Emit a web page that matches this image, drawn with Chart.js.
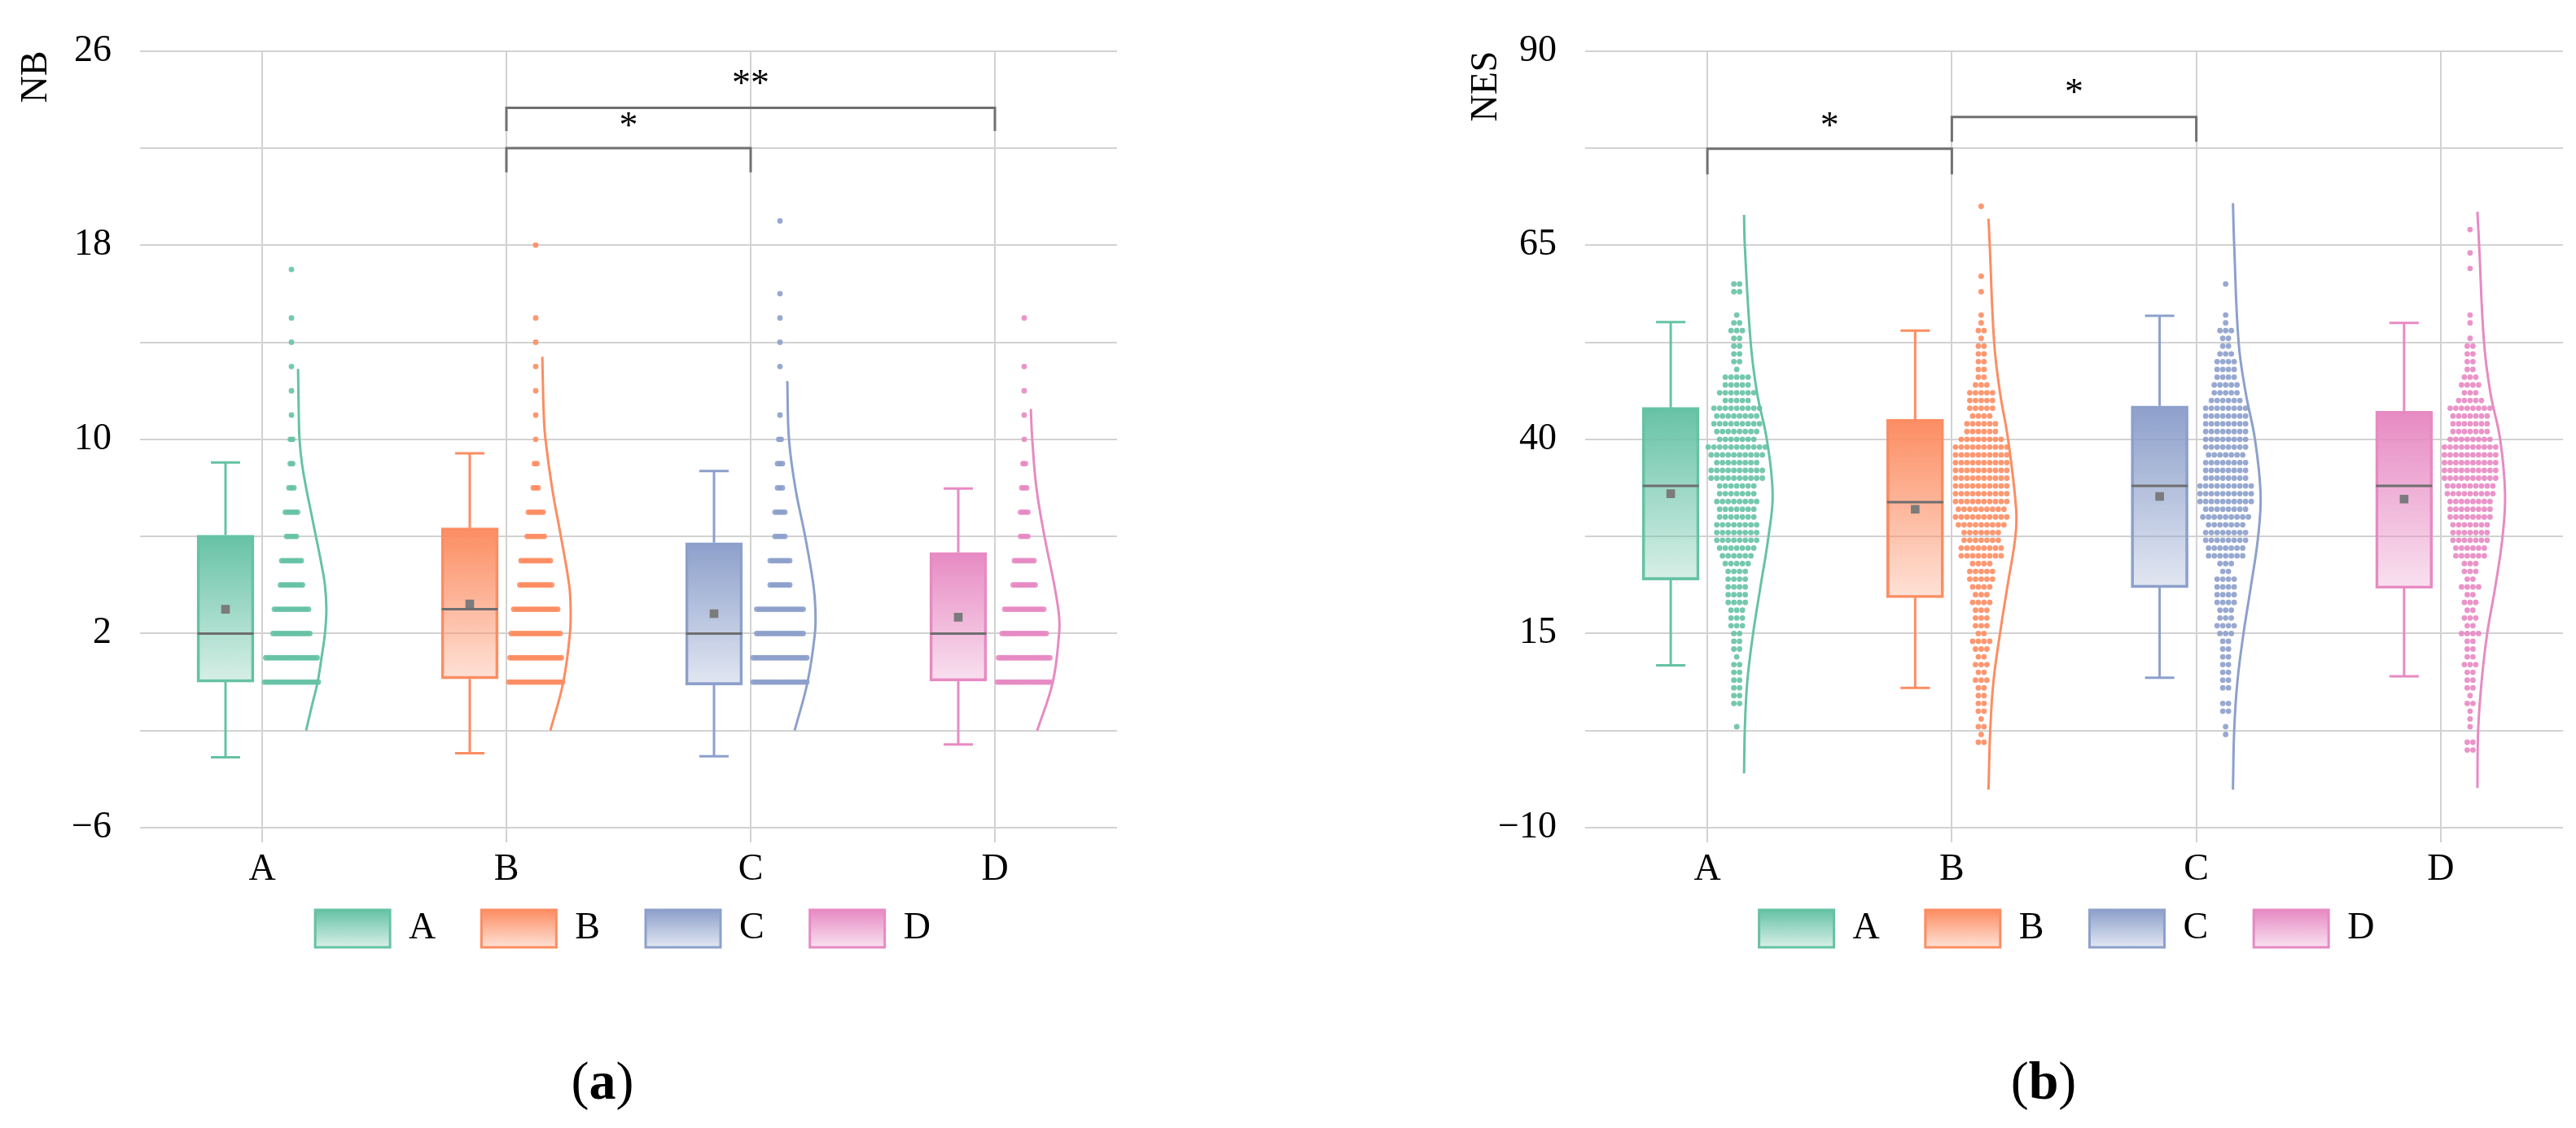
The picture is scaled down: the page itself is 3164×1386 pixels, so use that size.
<!DOCTYPE html>
<html>
<head>
<meta charset="utf-8">
<script src="https://cdn.jsdelivr.net/npm/chart.js@4.4.1/dist/chart.umd.min.js"></script>
<style>
html,body{margin:0;padding:0;background:#fff;width:3164px;height:1386px;overflow:hidden;position:relative;}
.wrap{position:absolute;top:0;}
#w1{left:0;width:1530px;height:1209px;}
#w2{left:1780px;width:1517px;height:1209px;}
.cap{position:absolute;top:1288px;font-family:'Liberation Serif',serif;font-size:66px;line-height:80px;color:#000;transform:translateX(-50%);white-space:nowrap;}
</style>
</head>
<body>
<div class="wrap" id="w1"><canvas id="c1" width="1530" height="1209"></canvas></div>
<div class="wrap" id="w2"><canvas id="c2" width="1517" height="1209"></canvas></div>
<div class="cap" style="left:740px">(<b>a</b>)</div>
<div class="cap" style="left:2510px">(<b>b</b>)</div>
<script>
// ---------- shared ----------
const categories = ['A', 'B', 'C', 'D'];
const seriesColors = ['#66c2a5', '#fc8d62', '#8da0cb', '#e78ac3'];

// ---------- (a) NB ----------
const nbMin    = [-3.1, -2.93, -3.06, -2.57];
const nbQ1     = [0.0, 0.13, -0.12, 0.04];
const nbMedian = [2.0, 3.0, 2.0, 2.0];
const nbQ3     = [6.05, 6.35, 5.74, 5.34];
const nbMax    = [9.05, 9.42, 8.69, 7.97];
const nbMean   = [3.0, 3.22, 2.82, 2.67];
const nbTickLabels = [-6, 2, 10, 18, 26];
const nbRowValues = [0,1,2,3,4,5,6,7,8,9,10,11,12,13,14,15,16,17,18,19];
const nbCountsA = [23,22,16,15,10,9,5,6,3,2,2,1,1,1,1,1,0,1,0,0];
const nbCountsB = [23,22,21,19,14,13,8,7,3,2,1,1,1,1,1,1,0,0,1,0];
const nbCountsC = [23,23,20,20,9,9,5,5,3,3,2,1,0,1,1,1,1,0,0,1];
const nbCountsD = [23,22,19,17,10,9,4,4,3,2,1,1,1,1,0,1,0,0,0,0];
const nbCurveYA = [-2,-1,0,1,2,3,4,5,6,7,8,9,10,11,12.9];
const nbCurveXA = [0.180,0.203,0.227,0.243,0.257,0.263,0.257,0.240,0.220,0.200,0.180,0.163,0.153,0.150,0.147];
const nbCurveYB = [-2,0,2,3,4,6,8,10,11,13.4];
const nbCurveXB = [0.180,0.233,0.260,0.263,0.257,0.223,0.187,0.160,0.153,0.147];
const nbCurveYC = [-2,0,2,3,4,6,8,10,12.4];
const nbCurveXC = [0.180,0.233,0.263,0.265,0.257,0.223,0.183,0.157,0.150];
const nbCurveYD = [-2,0,2,2.7,4,6,8,10,11.25];
const nbCurveXD = [0.173,0.237,0.263,0.263,0.243,0.203,0.170,0.153,0.147];
const nbSigFrom  = [1, 1];
const nbSigTo    = [2, 3];
const nbSigY     = [22, 23.66];
const nbSigTip   = [21, 22.7];
const nbSigText  = ['*', '**'];
const nbSigTextY = [23.1, 24.85];

// ---------- (b) NES ----------
const nesMin    = [10.9, 8.0, 9.3, 9.5];
const nesQ1     = [21.9, 19.6, 20.9, 20.8];
const nesMedian = [34.0, 31.9, 34.0, 34.0];
const nesQ3     = [44.1, 42.6, 44.3, 43.6];
const nesMax    = [55.1, 54.0, 55.9, 55.0];
const nesMean   = [33.0, 31.0, 32.65, 32.3];
const nesTickLabels = [-10, 15, 40, 65, 90];
const nesRowValues = [0,1,2,3,4,5,6,7,8,9,10,11,12,13,14,15,16,17,18,19,20,21,22,23,24,25,26,27,28,29,30,31,32,33,34,35,36,37,38,39,40,41,42,43,44,45,46,47,48,49,50,51,52,53,54,55,56,57,58,59,60,61,62,63,64,65,66,67,68,69,70];
const nesCountsA = [0,0,0,1,0,0,2,2,2,2, 2,2,1,2,2,2,3,3,3,4, 4,4,4,4,5,6,7,8,8,8, 7,7,8,7,7,10,10,8,10,11, 7,8,9,8,9,5,7,5,5,1, 2,2,2,2,3,2,1,0,0,2, 2,0,0,0,0,0,0,0,0,0,0];
const nesCountsB = [0,2,1,2,1,2,2,2,2,3, 2,3,2,3,4,2,3,3,3,4, 3,4,5,5,4,8,8,7,7,9, 10,9,10,10,10,10,10,10,10,10, 8,6,6,4,5,5,5,3,2,2, 2,2,2,1,2,1,1,0,0,1, 0,1,0,0,0,0,0,0,0,0,1];
const nesCountsC = [0,0,1,1,0,2,2,0,2,2, 2,2,2,2,2,3,4,3,3,4, 4,4,4,2,3,7,7,8,8,7, 9,8,10,10,10,8,8,8,7,8, 8,8,8,8,8,6,5,5,4,4, 4,3,2,2,3,1,1,0,0,0, 1,0,0,0,0,0,0,0,0,0,0];
const nesCountsD = [2,2,0,1,1,1,2,1,2,2, 2,3,2,2,2,4,2,3,2,3, 2,4,2,3,3,6,6,7,7,7, 8,8,8,9,9,10,10,10,10,10, 8,7,7,7,8,5,3,4,3,2, 2,2,2,1,0,1,1,0,0,0, 0,0,1,0,1,0,0,1,0,0,0];
const nesCurveYA = [-3,2.5,8.75,15,21,27.5,33,40,46,52.5,65,68.9];
const nesCurveXA = [0.150,0.153,0.163,0.187,0.217,0.250,0.267,0.243,0.203,0.177,0.153,0.150];
const nesCurveYB = [-5.1,2.5,8.75,15,21,27.5,31,40,46,52.5,65,68.4];
const nesCurveXB = [0.150,0.157,0.170,0.197,0.227,0.260,0.263,0.230,0.197,0.173,0.155,0.150];
const nesCurveYC = [-5.1,2.5,8.75,15,21,27.5,33,40,46,52.5,65,70.4];
const nesCurveXC = [0.150,0.155,0.168,0.193,0.223,0.253,0.263,0.240,0.202,0.173,0.155,0.150];
const nesCurveYD = [-4.9,2.5,8.75,15,21,27.5,33,40,46,52.5,65,69.3];
const nesCurveXD = [0.150,0.153,0.167,0.190,0.223,0.253,0.263,0.243,0.203,0.177,0.157,0.150];
const nesSigFrom  = [0, 1];
const nesSigTo    = [1, 2];
const nesSigY     = [77.4, 81.5];
const nesSigTip   = [74.1, 78.3];
const nesSigText  = ['*', '*'];
const nesSigTextY = [81.0, 85.2];

// ---------- styling ----------
const FONT = 'Liberation Serif';
const GRID = '#d2d2d2';
const MEDIAN_COLOR = '#6e6e6e';
const MEAN_COLOR = '#7b7b7b';
const BRACKET_COLOR = '#707070';
const BOX_OFFSET = -0.15;
const BOX_HALF = 0.115;
const CAP_HALF = 0.06;
const DOT_OFFSET = 0.12;
const LEGEND_PAD = 56;
const LEGEND_SHIFT = 35;

Chart.defaults.font.family = FONT;

function rgba(hex, a) {
  const n = parseInt(hex.slice(1), 16);
  return 'rgba(' + (n >> 16) + ',' + ((n >> 8) & 255) + ',' + (n & 255) + ',' + a + ')';
}
function fmt(v) { return v < 0 ? '\u2212' + Math.abs(v) : String(v); }

// moves the legend up into the empty band under the axis labels
const legendLiftPlugin = {
  id: 'legendLift',
  afterLayout(chart) {
    const lg = chart.legend;
    if (lg) { lg.top -= LEGEND_SHIFT; lg.bottom -= LEGEND_SHIFT; }
  }
};

function buildChart(canvasId, d) {
  const datasets = [];
  categories.forEach((cat, i) => {
    const col = seriesColors[i];
    const bx = i + BOX_OFFSET;
    datasets.push({
      type: 'bar', label: cat,
      data: [{ x: bx, y: [d.q1[i], d.q3[i]] }],
      backgroundColor: (ctx) => {
        const ys = ctx.chart.scales.y;
        const r = ctx.raw;
        if (!ys || !r || !Array.isArray(r.y)) return rgba(col, 0.6);
        const t = ys.getPixelForValue(Math.max(r.y[0], r.y[1]));
        const b = ys.getPixelForValue(Math.min(r.y[0], r.y[1]));
        if (!isFinite(t) || !isFinite(b) || t === b) return rgba(col, 0.6);
        const g = ctx.chart.ctx.createLinearGradient(0, t, 0, b);
        g.addColorStop(0, rgba(col, 1));
        g.addColorStop(1, rgba(col, 0.26));
        return g;
      },
      borderColor: col, borderWidth: 3, borderSkipped: false,
      barThickness: 70, grouped: false, order: 5
    });
    datasets.push({
      type: 'scatter', label: cat + ' whiskers', showLine: true,
      data: [
        { x: bx - CAP_HALF, y: d.min[i] }, { x: bx + CAP_HALF, y: d.min[i] }, { x: bx, y: null },
        { x: bx, y: d.min[i] }, { x: bx, y: d.q1[i] }, { x: bx, y: null },
        { x: bx, y: d.q3[i] }, { x: bx, y: d.max[i] }, { x: bx, y: null },
        { x: bx - CAP_HALF, y: d.max[i] }, { x: bx + CAP_HALF, y: d.max[i] }
      ],
      borderColor: col, borderWidth: 3, pointRadius: 0, spanGaps: false, order: 6
    });
    datasets.push({
      type: 'scatter', label: cat + ' median', showLine: true,
      data: [{ x: bx - BOX_HALF, y: d.median[i] }, { x: bx + BOX_HALF, y: d.median[i] }],
      borderColor: MEDIAN_COLOR, borderWidth: 3, pointRadius: 0, order: 2
    });
    const dots = [];
    d.rows.forEach((v, k) => {
      const n = d.counts[i][k];
      for (let j = 0; j < n; j++) dots.push({ x: i + DOT_OFFSET + (j - (n - 1) / 2) * d.dotStep, y: v });
    });
    datasets.push({
      type: 'scatter', label: cat + ' points', data: dots,
      backgroundColor: rgba(col, 0.9), borderWidth: 0, pointRadius: 3.4, order: 4
    });
    datasets.push({
      type: 'scatter', label: cat + ' distribution', showLine: true,
      data: d.curveY[i].map((y, k) => ({ x: i + d.curveX[i][k], y: y })),
      borderColor: col, borderWidth: 3, pointRadius: 0, tension: 0.4, order: 4
    });
  });
  datasets.push({
    type: 'scatter', label: 'mean',
    data: categories.map((c, i) => ({ x: i + BOX_OFFSET, y: d.mean[i] })),
    pointStyle: 'rect', pointRadius: 7.5, backgroundColor: MEAN_COLOR, borderWidth: 0, order: 1
  });

  const bracketPlugin = {
    id: 'sigBrackets',
    afterDatasetsDraw(chart) {
      const { ctx } = chart;
      const xs = chart.scales.x, ys = chart.scales.y;
      ctx.save();
      ctx.strokeStyle = BRACKET_COLOR;
      ctx.lineWidth = 3;
      ctx.fillStyle = '#000';
      ctx.font = '46px "' + FONT + '"';
      ctx.textAlign = 'center';
      ctx.textBaseline = 'middle';
      d.sigFrom.forEach((f, k) => {
        const x1 = xs.getPixelForValue(f), x2 = xs.getPixelForValue(d.sigTo[k]);
        const yl = ys.getPixelForValue(d.sigY[k]), yt = ys.getPixelForValue(d.sigTip[k]);
        ctx.beginPath();
        ctx.moveTo(x1, yt); ctx.lineTo(x1, yl); ctx.lineTo(x2, yl); ctx.lineTo(x2, yt);
        ctx.stroke();
        ctx.fillText(d.sigText[k], (x1 + x2) / 2, ys.getPixelForValue(d.sigTextY[k]) + 8);
      });
      ctx.restore();
    }
  };

  return new Chart(document.getElementById(canvasId), {
    type: 'scatter',
    data: { datasets: datasets },
    plugins: [bracketPlugin, legendLiftPlugin],
    options: {
      responsive: false,
      devicePixelRatio: 1,
      animation: false,
      events: [],
      layout: { padding: { top: 55, left: 0, right: 0, bottom: 0 } },
      plugins: {
        tooltip: { enabled: false },
        legend: {
          display: true, position: 'bottom', align: 'center',
          labels: {
            boxWidth: 92, boxHeight: 46, padding: LEGEND_PAD, color: '#000',
            font: { family: FONT, size: 46 },
            generateLabels: (chart) => {
              const lg = chart.legend;
              const y0 = (lg && isFinite(lg.top) ? lg.top : 1062) + LEGEND_PAD;
              return categories.map((c, i) => {
                const g = chart.ctx.createLinearGradient(0, y0, 0, y0 + 46);
                g.addColorStop(0, rgba(seriesColors[i], 1));
                g.addColorStop(1, rgba(seriesColors[i], 0.26));
                return { text: c, fillStyle: g, strokeStyle: seriesColors[i], lineWidth: 3,
                         hidden: false, datasetIndex: i * 5, fontColor: '#000' };
              });
            }
          }
        }
      },
      scales: {
        x: {
          type: 'linear', min: -0.5, max: 3.5, offset: false,
          afterBuildTicks: (ax) => { ax.ticks = categories.map((c, i) => ({ value: i })); },
          afterFit: (s) => { s.height = 80; },
          ticks: {
            callback: (v) => categories[v] !== undefined ? categories[v] : '',
            font: { family: FONT, size: 46 }, color: '#000', padding: 6,
            autoSkip: false, maxRotation: 0
          },
          grid: { offset: false, color: GRID, lineWidth: 2, drawTicks: true, tickLength: 18, tickColor: GRID, tickWidth: 2 },
          border: { display: false }
        },
        y: {
          type: 'linear', position: 'left', min: d.yMin, max: d.yMax,
          afterFit: (s) => { s.width = d.yAxisWidth; },
          ticks: {
            stepSize: d.yStep,
            callback: (v) => d.tickLabels.includes(v) ? fmt(v) : '',
            font: { family: FONT, size: 46 }, color: '#000', padding: 35
          },
          grid: { color: GRID, lineWidth: 2, drawTicks: false },
          border: { display: false },
          title: { display: true, text: d.title, align: 'end', color: '#000',
                   font: { family: FONT, size: 46 }, padding: { top: d.titlePad, bottom: 0 } }
        },
        yR: {
          type: 'linear', position: 'right', display: true,
          afterFit: (s) => { s.width = d.rightWidth; },
          ticks: { display: false },
          grid: { display: false },
          border: { display: false }
        }
      }
    }
  });
}

buildChart('c1', {
  title: 'NB', yMin: -6, yMax: 26, yStep: 4, tickLabels: nbTickLabels,
  yAxisWidth: 172, rightWidth: 158, titlePad: 17,
  min: nbMin, q1: nbQ1, median: nbMedian, q3: nbQ3, max: nbMax, mean: nbMean,
  rows: nbRowValues, counts: [nbCountsA, nbCountsB, nbCountsC, nbCountsD], dotStep: 0.01,
  curveY: [nbCurveYA, nbCurveYB, nbCurveYC, nbCurveYD],
  curveX: [nbCurveXA, nbCurveXB, nbCurveXC, nbCurveXD],
  sigFrom: nbSigFrom, sigTo: nbSigTo, sigY: nbSigY, sigTip: nbSigTip, sigText: nbSigText, sigTextY: nbSigTextY
});

buildChart('c2', {
  title: 'NES', yMin: -10, yMax: 90, yStep: 12.5, tickLabels: nesTickLabels,
  yAxisWidth: 167, rightWidth: 149, titlePad: 18,
  min: nesMin, q1: nesQ1, median: nesMedian, q3: nesQ3, max: nesMax, mean: nesMean,
  rows: nesRowValues, counts: [nesCountsA, nesCountsB, nesCountsC, nesCountsD], dotStep: 0.0233,
  curveY: [nesCurveYA, nesCurveYB, nesCurveYC, nesCurveYD],
  curveX: [nesCurveXA, nesCurveXB, nesCurveXC, nesCurveXD],
  sigFrom: nesSigFrom, sigTo: nesSigTo, sigY: nesSigY, sigTip: nesSigTip, sigText: nesSigText, sigTextY: nesSigTextY
});
</script>
</body>
</html>
